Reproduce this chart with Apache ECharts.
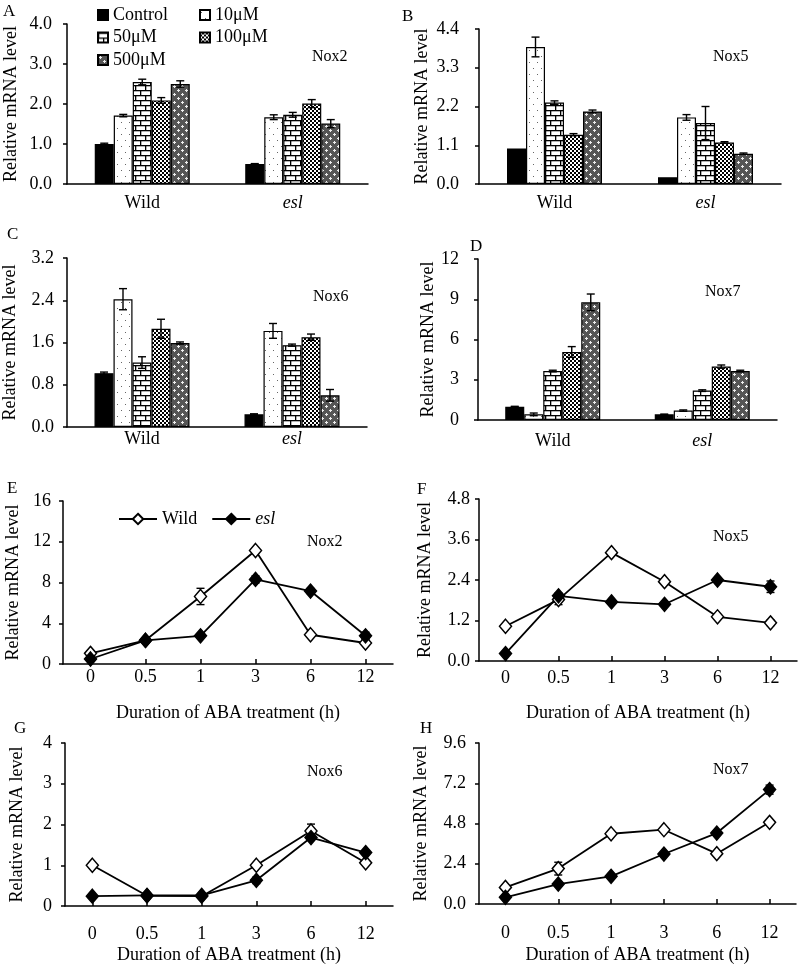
<!DOCTYPE html>
<html><head><meta charset="utf-8">
<script src="https://cdn.jsdelivr.net/npm/echarts@6.0.0/dist/echarts.min.js"></script>
<style>html,body{margin:0;padding:0;background:#fff}#c{width:800px;height:966px}</style>
</head><body><div id="c"></div>
<script>
// ---------- DATA ----------
const groups = ['Wild', 'esl'];
const concentrations = ['Control', '10μM', '50μM', '100μM', '500μM'];
const hours = ['0', '0.5', '1', '3', '6', '12'];

// Bar panels: one row per concentration, [Wild, esl]
const nox2Conc    = [[1.00,0.50],[1.71,1.67],[2.55,1.73],[2.09,2.01],[2.50,1.51]];
const nox2ConcErr = [[0.02,0.01],[0.03,0.06],[0.07,0.06],[0.07,0.10],[0.08,0.10]];
const nox5Conc    = [[1.01,0.19],[3.89,1.89],[2.31,1.73],[1.40,1.18],[2.06,0.86]];
const nox5ConcErr = [[0.00,0.00],[0.28,0.08],[0.05,0.47],[0.03,0.02],[0.04,0.02]];
const nox6Conc    = [[1.02,0.24],[2.42,1.82],[1.22,1.55],[1.86,1.70],[1.59,0.60]];
const nox6ConcErr = [[0.02,0.01],[0.20,0.14],[0.11,0.02],[0.18,0.06],[0.02,0.11]];
const nox7Conc    = [[0.99,0.42],[0.42,0.70],[3.65,2.19],[5.07,3.98],[8.77,3.65]];
const nox7ConcErr = [[0.03,0.02],[0.10,0.05],[0.06,0.06],[0.40,0.12],[0.62,0.06]];

// Time-course panels
const nox2TimeWild = [1.05,2.33,6.63,11.14,2.87,2.06];
const nox2TimeWildErr = [0.05,0.10,0.80,0.10,0.10,0.10];
const nox2TimeEsl = [0.49,2.31,2.77,8.30,7.16,2.77];
const nox2TimeEslErr = [0.05,0.10,0.10,0.35,0.25,0.35];
const nox5TimeWild = [1.03,1.82,3.21,2.35,1.31,1.13];
const nox5TimeWildErr = [0.02,0.15,0.03,0.03,0.02,0.08];
const nox5TimeEsl = [0.22,1.93,1.75,1.68,2.40,2.20];
const nox5TimeEslErr = [0.02,0.08,0.03,0.03,0.07,0.17];
const nox6TimeWild = [1.00,0.25,0.24,1.00,1.84,1.06];
const nox6TimeWildErr = [0.02,0.02,0.02,0.03,0.17,0.03];
const nox6TimeEsl = [0.24,0.26,0.26,0.63,1.68,1.31];
const nox6TimeEslErr = [0.02,0.02,0.03,0.08,0.06,0.03];
const nox7TimeWild = [0.99,2.11,4.19,4.43,3.00,4.87];
const nox7TimeWildErr = [0.05,0.38,0.05,0.05,0.05,0.05];
const nox7TimeEsl = [0.40,1.19,1.65,2.98,4.23,6.82];
const nox7TimeEslErr = [0.05,0.05,0.05,0.08,0.12,0.27];

// ---------- STYLE / LAYOUT ----------
const FONT = "'Liberation Serif','Times New Roman',serif";
const BAR_W = 19;

function makePattern(kind) {
  const c = document.createElement('canvas');
  const ctx = c.getContext('2d');
  if (kind === 'dots') {
    c.width = 8; c.height = 12;
    ctx.fillStyle = '#fff'; ctx.fillRect(0,0,8,12);
    ctx.fillStyle = '#666'; ctx.fillRect(1,2,1,1); ctx.fillRect(5,8,1,1);
  } else if (kind === 'brick') {
    c.width = 10; c.height = 10;
    ctx.fillStyle = '#fff'; ctx.fillRect(0,0,10,10);
    ctx.fillStyle = '#000';
    ctx.fillRect(0,0,10,1.3); ctx.fillRect(0,5,10,1.3);
    ctx.fillRect(0,0,1.3,5); ctx.fillRect(5,5,1.3,5);
  } else if (kind === 'check') {
    c.width = 4; c.height = 4;
    ctx.fillStyle = '#000'; ctx.fillRect(0,0,4,4);
    ctx.fillStyle = '#fff'; ctx.fillRect(0,0,2,2); ctx.fillRect(2,2,2,2);
  } else if (kind === 'cross') {
    c.width = 8; c.height = 8;
    ctx.fillStyle = '#555'; ctx.fillRect(0,0,8,8);
    ctx.fillStyle = '#eee';
    ctx.fillRect(2,1,1,3); ctx.fillRect(1,2,3,1);
    ctx.fillRect(6,5,1,3); ctx.fillRect(5,6,3,1);
  }
  return { image: c, repeat: 'repeat' };
}
const barFills = ['#000', makePattern('dots'), makePattern('brick'), makePattern('check'), makePattern('cross')];

const barPanels = [
  { grid:{left:67,top:24,width:301,height:160}, max:4, interval:1, dec:1, vals:nox2Conc, errs:nox2ConcErr, lm:15, ng:47, xm:10, letter:'A', lp:[3,3], gene:'Nox2', gp:[312,49] },
  { grid:{left:479,top:29,width:302,height:155}, max:4.4, interval:1.1, dec:1, vals:nox5Conc, errs:nox5ConcErr, lm:20, ng:48, xm:10, letter:'B', lp:[402,8], gene:'Nox5', gp:[713,49] },
  { grid:{left:67,top:258,width:300,height:169}, max:3.2, interval:0.8, dec:1, vals:nox6Conc, errs:nox6ConcErr, lm:13, ng:48, xm:3, letter:'C', lp:[7,226], gene:'Nox6', gp:[313,289] },
  { grid:{left:478,top:259,width:299,height:161}, max:12, interval:3, dec:0, vals:nox7Conc, errs:nox7ConcErr, lm:19, ng:41, xm:12, letter:'D', lp:[470,238], gene:'Nox7', gp:[705,284] }
];
const linePanels = [
  { grid:{left:63,top:501,width:330,height:163}, max:16, interval:4, dec:0, wild:nox2TimeWild, wildErr:nox2TimeWildErr, esl:nox2TimeEsl, eslErr:nox2TimeEslErr, lm:12, ng:41, xm:4, xng:40, letter:'E', lp:[7,480], gene:'Nox2', gp:[307,534] },
  { grid:{left:479,top:499,width:318,height:162}, max:4.8, interval:1.2, dec:1, wild:nox5TimeWild, wildErr:nox5TimeWildErr, esl:nox5TimeEsl, eslErr:nox5TimeEslErr, lm:9, ng:45, xm:8, xng:43, letter:'F', lp:[417,481], gene:'Nox5', gp:[713,529] },
  { grid:{left:65,top:743,width:328,height:163}, max:4, interval:1, dec:0, wild:nox6TimeWild, wildErr:nox6TimeWildErr, esl:nox6TimeEsl, eslErr:nox6TimeEslErr, lm:13, ng:39, xm:19, xng:40, letter:'G', lp:[14,720], gene:'Nox6', gp:[307,764] },
  { grid:{left:479,top:743,width:317,height:161}, max:9.6, interval:2.4, dec:1, wild:nox7TimeWild, wildErr:nox7TimeWildErr, esl:nox7TimeEsl, eslErr:nox7TimeEslErr, lm:13, ng:49, xm:20, xng:42, letter:'H', lp:[420,720], gene:'Nox7', gp:[713,762] }
];

const axisLineStyle = { color:'#000', width:1.5 };
const txt = { fontFamily: FONT, fontSize: 18, color: '#000' };

const grids = [], xAxes = [], yAxes = [], series = [], titles = [];

function yAxisFor(p, idx) {
  return {
    gridIndex: idx, type:'value', min:0, max:p.max, interval:p.interval,
    name:'Relative mRNA level', nameLocation:'middle', nameGap:p.ng,
    nameTextStyle: Object.assign({}, txt),
    axisLine:{ show:true, lineStyle:axisLineStyle },
    axisTick:{ show:true, length:4, lineStyle:axisLineStyle },
    splitLine:{ show:false },
    axisLabel: Object.assign({ margin:p.lm, formatter: v => Number(v).toFixed(p.dec) }, txt)
  };
}
function addTitles(p) {
  titles.push({ text:p.letter, left:p.lp[0], top:p.lp[1], padding:0,
    textStyle:{ fontFamily:FONT, fontSize:17, fontWeight:'normal', color:'#000' } });
  titles.push({ text:p.gene, left:p.gp[0], top:p.gp[1], padding:0,
    textStyle:{ fontFamily:FONT, fontSize:16, fontWeight:'normal', color:'#000' } });
}

function errRender(offsetFn) {
  return function (params, api) {
    const cat = api.value(0), s = api.value(1), v = api.value(2), e = api.value(3);
    if (!e) return;
    const hi = api.coord([cat, v + e]);
    const lo = api.coord([cat, v - e]);
    const x = hi[0] + offsetFn(s);
    const cap = 4;
    const st = { stroke:'#000', lineWidth:1.4 };
    return { type:'group', children:[
      { type:'line', shape:{x1:x, y1:hi[1], x2:x, y2:lo[1]}, style:st },
      { type:'line', shape:{x1:x-cap, y1:hi[1], x2:x+cap, y2:hi[1]}, style:st },
      { type:'line', shape:{x1:x-cap, y1:lo[1], x2:x+cap, y2:lo[1]}, style:st }
    ]};
  };
}

let gi = 0;
barPanels.forEach(p => {
  grids.push(p.grid);
  xAxes.push({
    gridIndex:gi, type:'category',
    data:[ 'Wild', { value:'esl', textStyle:{ fontStyle:'italic' } } ],
    axisLine:{ show:true, lineStyle:axisLineStyle }, axisTick:{ show:false },
    axisLabel: Object.assign({ margin:p.xm }, txt)
  });
  yAxes.push(yAxisFor(p, gi));
  concentrations.forEach((name, s) => {
    series.push({
      type:'bar', name, xAxisIndex:gi, yAxisIndex:gi, barWidth:BAR_W, barGap:'0%',
      data:p.vals[s], silent:true, z:2,
      itemStyle:{ color:barFills[s], borderColor:'#000', borderWidth:1.2 }
    });
  });
  const errData = [];
  p.vals.forEach((row, s) => row.forEach((v, c) => errData.push([c, s, v, p.errs[s][c]])));
  series.push({
    type:'custom', xAxisIndex:gi, yAxisIndex:gi, z:5, silent:true,
    data:errData, encode:{ x:0, y:2 },
    renderItem: errRender(s => (s - 2) * BAR_W)
  });
  addTitles(p);
  gi++;
});

linePanels.forEach(p => {
  grids.push(p.grid);
  xAxes.push({
    gridIndex:gi, type:'category', data:hours, boundaryGap:true,
    name:'Duration of ABA treatment (h)', nameLocation:'middle', nameGap:p.xng,
    nameTextStyle: Object.assign({}, txt),
    axisLine:{ show:true, lineStyle:axisLineStyle },
    axisTick:{ show:true, alignWithLabel:true, inside:true, length:5, lineStyle:axisLineStyle },
    axisLabel: Object.assign({ margin:p.xm }, txt)
  });
  yAxes.push(yAxisFor(p, gi));
  const errData = [];
  p.wild.forEach((v, c) => errData.push([c, 0, v, p.wildErr[c]]));
  p.esl.forEach((v, c) => errData.push([c, 1, v, p.eslErr[c]]));
  series.push({
    type:'custom', xAxisIndex:gi, yAxisIndex:gi, z:1, silent:true,
    data:errData, encode:{ x:0, y:2 },
    renderItem: errRender(() => 0)
  });
  series.push({
    type:'line', name:'Wild', xAxisIndex:gi, yAxisIndex:gi, data:p.wild, z:3,
    symbol:'diamond', symbolSize:[12,14], showAllSymbol:true, silent:true,
    lineStyle:{ color:'#000', width:1.8 },
    itemStyle:{ color:'#fff', borderColor:'#000', borderWidth:1.5 }
  });
  series.push({
    type:'line', name:'esl', xAxisIndex:gi, yAxisIndex:gi, data:p.esl, z:3,
    symbol:'diamond', symbolSize:[12,14], showAllSymbol:true, silent:true,
    lineStyle:{ color:'#000', width:1.8 },
    itemStyle:{ color:'#000', borderColor:'#000', borderWidth:1.5 }
  });
  addTitles(p);
  gi++;
});

const legendText = { fontFamily:FONT, fontSize:18, color:'#000', lineHeight:18 };
const option = {
  animation:false,
  backgroundColor:'#fff',
  title: titles,
  grid: grids, xAxis: xAxes, yAxis: yAxes, series,
  legend: [
    { left:97, top:6, orient:'vertical', selectedMode:false, icon:'rect', itemWidth:10, itemHeight:10, itemGap:4.5,
      data:[concentrations[0], concentrations[2], concentrations[4]], textStyle:legendText, padding:0 },
    { left:199, top:6, orient:'vertical', selectedMode:false, icon:'rect', itemWidth:10, itemHeight:10, itemGap:4.5,
      data:[concentrations[1], concentrations[3]], textStyle:legendText, padding:0 },
    { left:118, top:510, orient:'horizontal', selectedMode:false, itemWidth:38, itemHeight:13, itemGap:14,
      data:[ 'Wild', { name:'esl', textStyle:{ fontStyle:'italic' } } ], textStyle:legendText, padding:0 }
  ]
};
const chart = echarts.init(document.getElementById('c'), null, { renderer:'canvas' });
chart.setOption(option);
</script></body></html>
